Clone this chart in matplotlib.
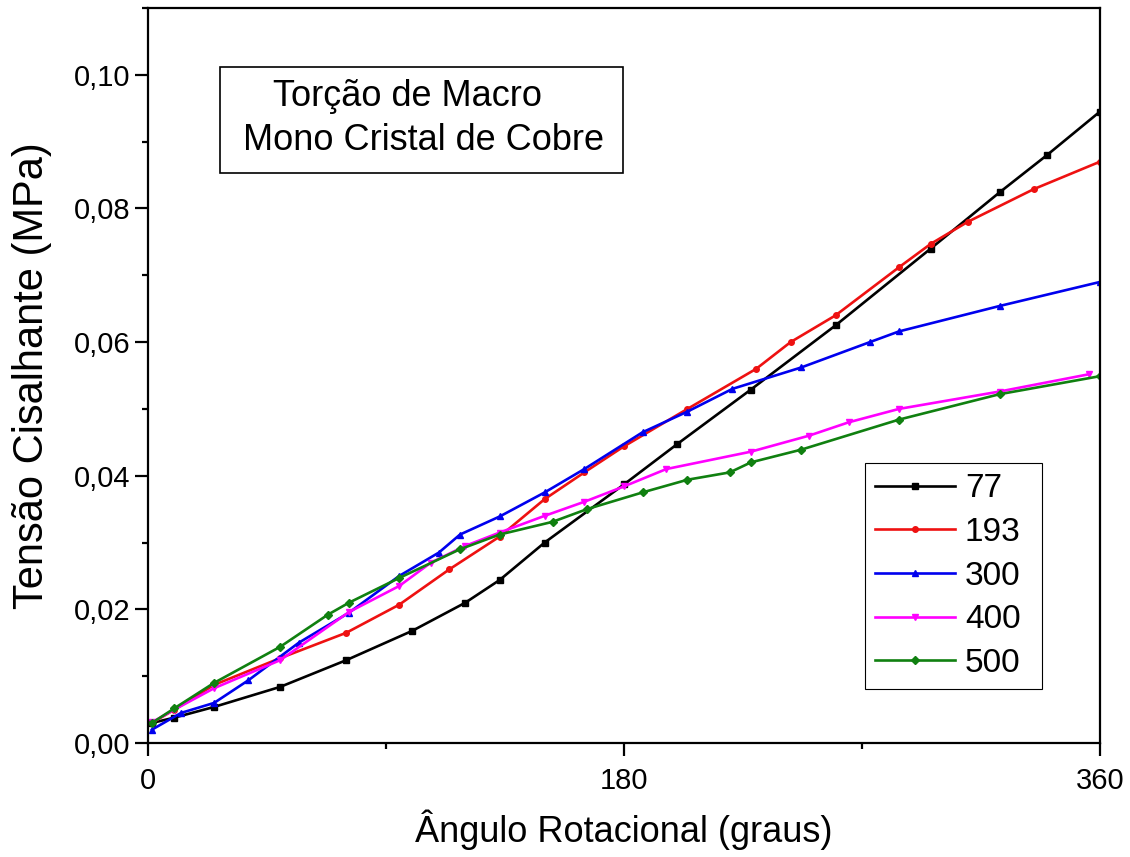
import matplotlib
matplotlib.use("Agg")
import matplotlib.pyplot as plt
from matplotlib.ticker import FuncFormatter, MultipleLocator
from matplotlib.patches import Rectangle

plt.rcParams['font.family'] = ['Liberation Sans', 'DejaVu Sans']

# ---- data ----
x77 = [1.5, 10, 25, 50, 75, 100, 120, 133, 150, 180, 200, 228, 260, 296, 322, 340, 360]
y77 = [0.0030, 0.0038, 0.0054, 0.0084, 0.0124, 0.0168, 0.0210, 0.0244, 0.0300, 0.0387,
       0.0447, 0.0529, 0.0625, 0.0740, 0.0824, 0.0880, 0.0945]

x193 = [1.5, 10, 25, 50, 75, 95, 114, 133, 150, 165, 180, 204, 230, 243, 260, 284, 296, 310, 335, 360]
y193 = [0.0030, 0.0050, 0.0087, 0.0127, 0.0165, 0.0207, 0.0260, 0.0309, 0.0365, 0.0405,
        0.0444, 0.0500, 0.0560, 0.0600, 0.0640, 0.0712, 0.0747, 0.0780, 0.0829, 0.0870]

x300 = [1.5, 12.5, 25, 38, 57, 76, 95, 110, 118, 133, 150, 165, 187, 204, 221, 247, 273, 284, 322, 360]
y300 = [0.0020, 0.0045, 0.0060, 0.0094, 0.0150, 0.0195, 0.0250, 0.0285, 0.0312, 0.0339,
        0.0375, 0.0410, 0.0465, 0.0496, 0.0530, 0.0562, 0.0600, 0.0616, 0.0654, 0.0690]

x400 = [1.5, 10, 25, 50, 76, 95, 107, 120, 133, 150, 165, 180, 196, 228, 250, 265, 284, 322, 356]
y400 = [0.0031, 0.0050, 0.0082, 0.0124, 0.0196, 0.0235, 0.0270, 0.0295, 0.0315, 0.0340,
        0.0361, 0.0384, 0.0410, 0.0436, 0.0460, 0.0480, 0.0500, 0.0526, 0.0552]

x500 = [1.5, 10, 25, 50, 68, 76, 95, 118, 133, 153, 166, 187, 204, 220, 228, 247, 284, 322, 360]
y500 = [0.0030, 0.0052, 0.0090, 0.0144, 0.0192, 0.0210, 0.0247, 0.0290, 0.0312, 0.0331,
        0.0350, 0.0375, 0.0394, 0.0405, 0.0420, 0.0439, 0.0484, 0.0522, 0.0549]

labels = ['77', '193', '300', '400', '500']
xlabel = 'Ângulo Rotacional (graus)'
ylabel = 'Tensão Cisalhante (MPa)'
title_lines = ['Torção de Macro', 'Mono Cristal de Cobre']
xticks = [0, 180, 360]
yticks = [0.00, 0.02, 0.04, 0.06, 0.08, 0.10]

# ---- figure ----
fig = plt.figure(figsize=(11.30, 8.57), dpi=100)
ax = fig.add_axes([148/1130, (857-743)/857, (1100-148)/1130, (743-8)/857])

series = [(x77, y77, 'black', 's'), (x193, y193, '#ee1111', 'o'),
          (x300, y300, '#0000ee', '^'), (x400, y400, '#ff00ff', 'v'),
          (x500, y500, '#108010', 'D')]
for (xs, ys, c, m), lab in zip(series, labels):
    ax.plot(xs, ys, color=c, marker=m, markersize=4, linewidth=1.9, label=lab)

ax.set_xlim(0, 360)
ax.set_ylim(0, 0.11)
ax.set_xticks(xticks)
ax.set_yticks(yticks)
ax.xaxis.set_minor_locator(MultipleLocator(90))
ax.yaxis.set_minor_locator(MultipleLocator(0.01))
ax.yaxis.set_major_formatter(FuncFormatter(lambda v, p: f"{v:.2f}".replace('.', ',')))
ax.xaxis.set_major_formatter(FuncFormatter(lambda v, p: f"{v:.0f}"))

ax.tick_params(which='major', direction='out', length=9.5, width=1.6, labelsize=21, pad=3)
ax.tick_params(which='minor', direction='out', length=4.5, width=1.6)
ax.tick_params(axis='x', which='major', pad=8)
for s in ax.spines.values():
    s.set_linewidth(1.6)

ax.set_xlabel(xlabel, fontsize=26, labelpad=10)
ax.set_ylabel(ylabel, fontsize=30, labelpad=16)

leg = ax.legend(loc='lower left', bbox_to_anchor=(0.753, 0.0735, 0.186, 0.3075),
                mode='expand', fontsize=24, frameon=True, fancybox=False,
                edgecolor='black', framealpha=1, labelspacing=0.38,
                handlelength=2.4, handletextpad=0.3, borderpad=0.3, borderaxespad=0)
leg.get_frame().set_linewidth(0.8)

ax.add_patch(Rectangle((0.0756, 0.7755), 0.4234, 0.1442, transform=ax.transAxes,
                       fill=False, edgecolor='black', linewidth=1.2))
ax.text(0.1313, 0.879, title_lines[0], transform=ax.transAxes, fontsize=26,
        ha='left', va='center')
ax.text(0.0998, 0.820, title_lines[1], transform=ax.transAxes, fontsize=26,
        ha='left', va='center')

fig.savefig('out.png', dpi=100)
